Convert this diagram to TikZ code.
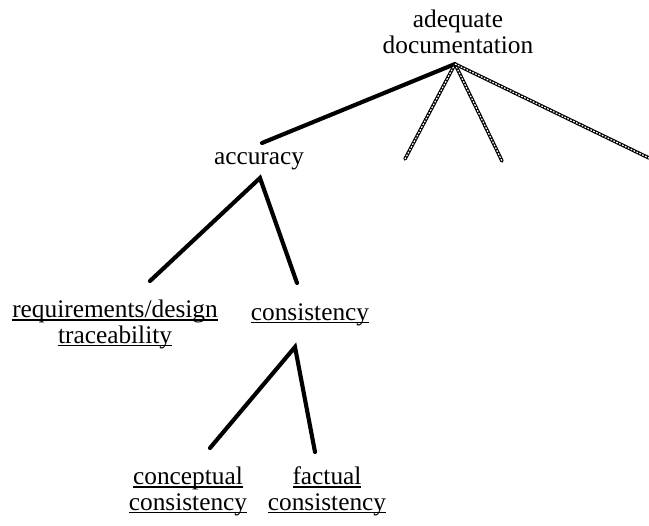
\documentclass[tikz,border=0pt]{standalone}
\usepackage{fontspec}
\setmainfont{Liberation Serif}
\usetikzlibrary{positioning}

\newsavebox{\undlbox}
\newcommand{\undl}[1]{\sbox{\undlbox}{#1}\rlap{\rule[-2.4pt]{\wd\undlbox}{1.1pt}}\usebox{\undlbox}}

\begin{document}
\begin{tikzpicture}[x=0.75pt, y=-0.75pt, line cap=round,
    lbl/.style={font=\fontsize{19}{19}\selectfont, align=center, inner sep=0pt, anchor=base},
    branch/.style={line width=3.1pt},
    chain/.style={line width=2.6pt, postaction={draw, white, line width=0.9pt, line cap=butt, dash pattern=on 1.3pt off 1.1pt}}]

  \useasboundingbox (0,0) rectangle (649,525);

  % labels (base = last line)
  \node[lbl] (adequate) at (458,53) {adequate\\documentation};
  \node[lbl] (accuracy) at (259,164) {accuracy};
  \node[lbl] (reqtrace) at (115,343) {\undl{requirements/design}\\\undl{traceability}};
  \node[lbl] (consist) at (310,320) {\undl{consistency}};
  \node[lbl] (concept) at (188,510) {\undl{conceptual}\\\undl{consistency}};
  \node[lbl] (factual) at (327,510) {\undl{factual}\\\undl{consistency}};

  % branch points and line ends
  \coordinate (adequate-j) at (455,64);
  \coordinate (accuracy-t) at (262,143);
  \coordinate (open-a) at (405,159);
  \coordinate (open-b) at (502,161);
  \coordinate (open-c) at (649,158);
  \coordinate (accuracy-j) at (260,178);
  \coordinate (reqtrace-t) at (150,281);
  \coordinate (consist-t) at (297,283);
  \coordinate (consist-j) at (295,347);
  \coordinate (concept-t) at (210,448);
  \coordinate (factual-t) at (315,452);

  \draw[branch] (adequate-j) -- (accuracy-t);
  \draw[chain] (adequate-j) -- (open-a);
  \draw[chain] (adequate-j) -- (open-b);
  \draw[chain] (adequate-j) -- (open-c);

  \draw[branch] (reqtrace-t) -- (accuracy-j) -- (consist-t);
  \draw[branch] (concept-t) -- (consist-j) -- (factual-t);
\end{tikzpicture}
\end{document}
